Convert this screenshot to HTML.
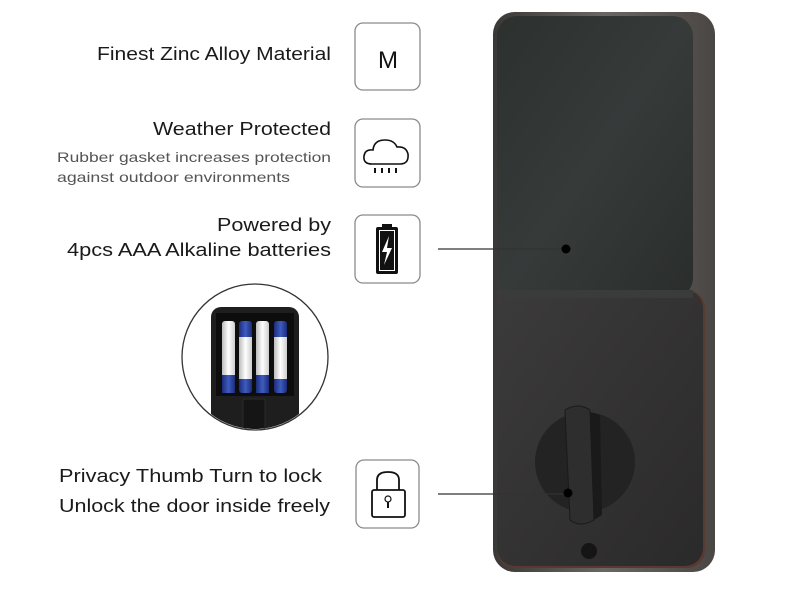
<!DOCTYPE html>
<html><head><style>
html,body{margin:0;padding:0;background:#fff;}
svg{display:block}
text{font-family:"Liberation Sans","DejaVu Sans",sans-serif;fill:#1a1a1a}
</style></head><body>
<svg width="800" height="600" viewBox="0 0 800 600" xmlns="http://www.w3.org/2000/svg">
<defs>
<linearGradient id="side" x1="0" x2="1"><stop offset="0" stop-color="#3a3836"/><stop offset="0.5" stop-color="#6a6664"/><stop offset="1" stop-color="#4a4644"/></linearGradient>
<linearGradient id="top" x1="0" y1="0" x2="1" y2="1"><stop offset="0" stop-color="#2c302f"/><stop offset="0.5" stop-color="#363b3a"/><stop offset="1" stop-color="#2a2d2c"/></linearGradient>
<linearGradient id="low" x1="0" y1="0" x2="1" y2="1"><stop offset="0" stop-color="#3c3b3b"/><stop offset="1" stop-color="#2b2a2a"/></linearGradient>
<linearGradient id="bat" x1="0" x2="1"><stop offset="0" stop-color="#bbb"/><stop offset="0.5" stop-color="#fff"/><stop offset="1" stop-color="#ccc"/></linearGradient>
<linearGradient id="batb" x1="0" x2="1"><stop offset="0" stop-color="#1c2c7a"/><stop offset="0.5" stop-color="#3e5cc0"/><stop offset="1" stop-color="#1c2c7a"/></linearGradient>
<clipPath id="cc"><circle cx="255" cy="357" r="72"/></clipPath>
</defs>

<!-- lock body -->
<rect x="493" y="12" width="222" height="560" rx="22" fill="url(#side)"/>
<rect x="497" y="290" width="208" height="278" rx="18" fill="#5a3a30"/>
<rect x="497" y="290" width="206" height="276" rx="18" fill="url(#low)"/>
<rect x="497" y="16" width="196" height="282" rx="20" fill="url(#top)"/>
<rect x="497" y="290" width="196" height="8" fill="#3a3c3b"/>
<!-- thumb turn -->
<circle cx="585" cy="462" r="50" fill="#232323"/>
<path d="M565 410 Q578 402 590 410 L594 520 Q580 528 570 520 Z" fill="#2e2e2e" stroke="#1a1a1a"/>
<path d="M590 412 L600 415 L602 515 L594 520 Z" fill="#1a1a1a"/>
<circle cx="589" cy="551" r="8" fill="#151515"/>

<!-- connectors -->
<line x1="438" y1="249" x2="566" y2="249" stroke="#333" stroke-width="1.2"/>
<circle cx="566" cy="249" r="4.5" fill="#000"/>
<line x1="438" y1="494" x2="568" y2="494" stroke="#333" stroke-width="1.2"/>
<circle cx="568" cy="493" r="4.5" fill="#000"/>

<!-- icon boxes -->
<g fill="#fff" stroke="#8a8a8a" stroke-width="1.3">
<rect x="355" y="23" width="65" height="67" rx="8"/>
<rect x="355" y="119" width="65" height="68" rx="8"/>
<rect x="355" y="215" width="65" height="68" rx="8"/>
<rect x="356" y="460" width="63" height="68" rx="8"/>
</g>
<text x="388" y="68" text-anchor="middle" font-size="24" style="fill:#111">M</text>
<!-- cloud -->
<path d="M372 164 Q363 164 364 156 Q365 149 373 150 Q374 140 385 140 Q394 140 397 147 Q406 146 408 154 Q409 164 400 164 Z" fill="none" stroke="#111" stroke-width="1.6"/>
<g fill="#111"><rect x="374" y="168" width="2" height="5"/><rect x="381" y="168" width="2" height="5"/><rect x="388" y="168" width="2" height="5"/><rect x="395" y="168" width="2" height="5"/></g>
<!-- battery -->
<rect x="382" y="224" width="10" height="4" fill="#111"/>
<rect x="376" y="227" width="22" height="47" rx="2" fill="#111"/>
<rect x="379" y="230" width="16" height="41" fill="#fff"/>
<rect x="380" y="231" width="14" height="39" fill="#111"/>
<path d="M389 236 L382 252 L387 252 L384 265 L392 248 L387 248 Z" fill="#fff"/>
<!-- padlock -->
<path d="M377 490 L377 480 Q377 472 388 472 Q399 472 399 480 L399 490" fill="none" stroke="#111" stroke-width="1.8"/>
<rect x="372" y="490" width="33" height="27" rx="2" fill="#fff" stroke="#111" stroke-width="1.8"/>
<circle cx="388" cy="499" r="3" fill="none" stroke="#111" stroke-width="1.2"/>
<rect x="387" y="502" width="2" height="6" fill="#111"/>

<!-- inset circle -->
<circle cx="255" cy="357" r="73" fill="#fff" stroke="#333" stroke-width="1.3"/>
<g clip-path="url(#cc)">
<rect x="211" y="307" width="88" height="140" rx="10" fill="#1e1e1e"/>
<rect x="216" y="313" width="78" height="83" fill="#0d0d0d"/>
<rect x="222" y="321" width="13" height="72" rx="3" fill="url(#bat)"/>
<rect x="222" y="375" width="13" height="18" fill="url(#batb)"/>
<rect x="239" y="321" width="13" height="72" rx="3" fill="url(#batb)"/>
<rect x="239" y="337" width="13" height="42" fill="url(#bat)"/>
<rect x="256" y="321" width="13" height="72" rx="3" fill="url(#bat)"/>
<rect x="256" y="375" width="13" height="18" fill="url(#batb)"/>
<rect x="274" y="321" width="13" height="72" rx="3" fill="url(#batb)"/>
<rect x="274" y="337" width="13" height="42" fill="url(#bat)"/>
<rect x="243" y="399" width="22" height="36" fill="#151515" stroke="#2a2a2a"/>
</g>

<!-- texts -->
<g lengthAdjust="spacingAndGlyphs">
<text x="97" y="60" font-size="18" textLength="234" lengthAdjust="spacingAndGlyphs">Finest Zinc Alloy Material</text>
<text x="153" y="135" font-size="18" textLength="178" lengthAdjust="spacingAndGlyphs">Weather Protected</text>
<text x="57" y="162" font-size="14" textLength="274" lengthAdjust="spacingAndGlyphs" style="fill:#555">Rubber gasket increases protection</text>
<text x="57" y="182" font-size="14" textLength="233" lengthAdjust="spacingAndGlyphs" style="fill:#555">against outdoor environments</text>
<text x="217" y="231" font-size="18" textLength="114" lengthAdjust="spacingAndGlyphs">Powered by</text>
<text x="67" y="256" font-size="18" textLength="264" lengthAdjust="spacingAndGlyphs">4pcs AAA Alkaline batteries</text>
<text x="59" y="482" font-size="18" textLength="263" lengthAdjust="spacingAndGlyphs">Privacy Thumb Turn to lock</text>
<text x="59" y="512" font-size="18" textLength="271" lengthAdjust="spacingAndGlyphs">Unlock the door inside freely</text>
</g>
</svg>
</body></html>
